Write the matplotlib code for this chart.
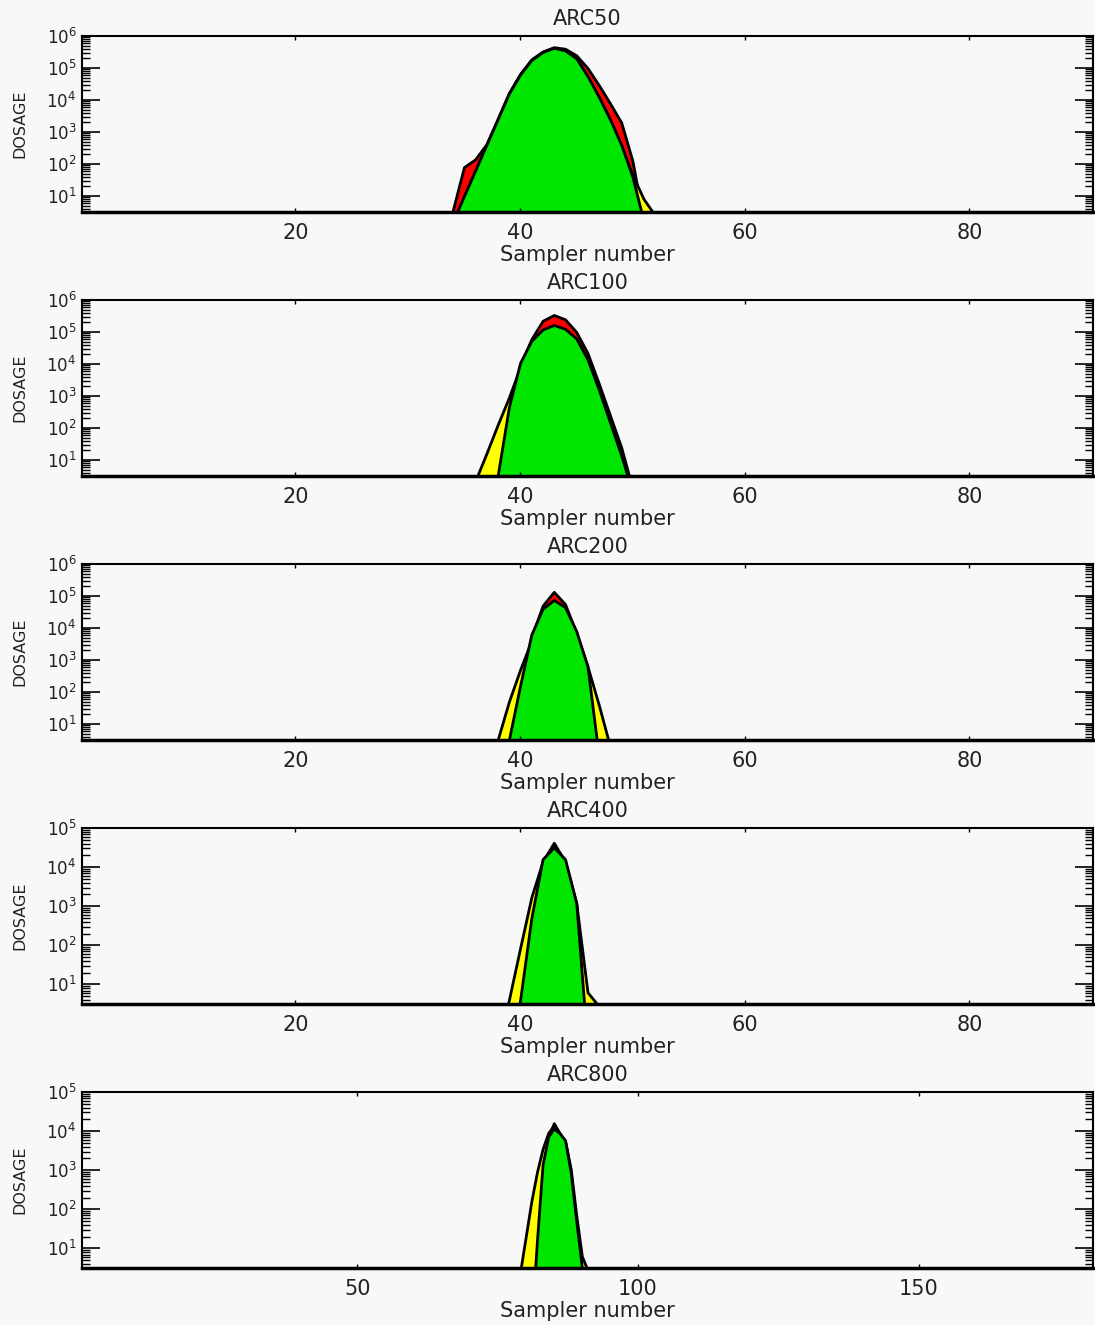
import numpy as np
import matplotlib
matplotlib.use("Agg")
import matplotlib.pyplot as plt
from matplotlib.ticker import LogLocator, NullFormatter

plt.rcParams['mathtext.default'] = 'regular'
plt.rcParams['font.family'] = ['DejaVu Sans']

# dosage per sampler (samplers outside these ranges are zero)
arc50_x = np.arange(33, 53)
arc50_red = [0.5, 3.5, 80, 140, 420, 2600, 16600, 66000, 186000, 330000, 447000,
             400000, 250000, 100000, 29500, 7900, 2000, 125, 1.6, 0.3]
arc50_yellow = [0.3, 1.4, 9.5, 60, 380, 2400, 15500, 62000, 176000, 310000, 420000,
                350000, 195000, 55000, 12500, 2450, 390, 45, 8, 2.5]
arc50_green = [0.3, 1.5, 10, 63, 400, 2500, 16000, 63000, 178000, 316000, 427000,
               355000, 200000, 56000, 12600, 2500, 400, 40, 1.6, 0.3]

arc100_x = np.arange(35, 52)
arc100_red = [0.3, 0.5, 0.6, 1, 250, 9000, 60000, 224000, 340000, 250000,
              100000, 22000, 2500, 250, 25, 1.3, 0.3]
arc100_yellow = [1, 2.2, 16, 126, 900, 8000, 48000, 115000, 155000, 115000,
                 56000, 12600, 1400, 130, 12, 1, 0.3]
arc100_green = [0.1, 0.1, 0.3, 3.2, 450, 11000, 53000, 120000, 166000, 126000,
                63000, 14000, 1600, 150, 14, 1, 0.3]

arc200_x = np.arange(37, 50)
arc200_red = [0.3, 0.5, 2, 100, 5000, 50000, 135000, 56000, 7000, 400, 1, 0.3, 0.3]
arc200_yellow = [0.6, 3.2, 50, 500, 4000, 35000, 71000, 42000, 7000, 630, 40, 2, 0.3]
arc200_green = [0.1, 0.3, 3.2, 160, 6300, 40000, 75000, 45000, 8000, 630, 1, 0.3, 0.3]

arc400_x = np.arange(38, 49)
arc400_red = [0.1, 0.3, 3, 400, 14000, 42000, 14000, 1100, 0.2, 0.1, 0.1]
arc400_yellow = [0.3, 4, 85, 1700, 14000, 35000, 14000, 1200, 6.3, 2.8, 0.3]
arc400_green = [0.1, 0.1, 4, 500, 16000, 32000, 16000, 1200, 0.25, 0.1, 0.1]

arc800_x = np.arange(78, 93)
arc800_red = [0.1, 0.1, 0.1, 0.1, 10, 1000, 7000, 16000, 9000, 5000, 800, 40, 2.5, 0.3, 0.1]
arc800_yellow = [0.3, 2.5, 20, 160, 900, 3500, 9000, 14000, 9000, 5600, 1100, 70, 6.3, 2.8, 0.3]
arc800_green = [0.1, 0.1, 0.1, 0.1, 16, 1400, 7200, 11700, 8900, 5900, 900, 50, 3.2, 0.3, 0.1]

panels = [
    ("ARC50", arc50_x, arc50_red, arc50_yellow, arc50_green, (1, 91), 1e6, [20, 40, 60, 80]),
    ("ARC100", arc100_x, arc100_red, arc100_yellow, arc100_green, (1, 91), 1e6, [20, 40, 60, 80]),
    ("ARC200", arc200_x, arc200_red, arc200_yellow, arc200_green, (1, 91), 1e6, [20, 40, 60, 80]),
    ("ARC400", arc400_x, arc400_red, arc400_yellow, arc400_green, (1, 91), 1e5, [20, 40, 60, 80]),
    ("ARC800", arc800_x, arc800_red, arc800_yellow, arc800_green, (1, 181), 1e5, [50, 100, 150]),
]

W, H = 1095, 1325
bg = '#f8f8f8'
txt = '#222222'
fig = plt.figure(figsize=(W / 100, H / 100), dpi=100, facecolor=bg)

ymin = 10 ** 0.5
for i, (name, x, red, yellow, green, xlim, ymax, xticks) in enumerate(panels):
    top = 36 + 264 * i
    bot = 212 + 264 * i
    ax = fig.add_axes([82 / W, 1 - bot / H, 1011 / W, (bot - top) / H], facecolor=bg)

    # red underneath, then yellow, green on top
    for vals, col in ((red, '#ff0000'), (yellow, '#ffff00'), (green, '#00e600')):
        ax.fill_between(x, vals, 1e-3, facecolor=col, edgecolor='black', linewidth=2.0)

    ax.set_yscale('log')
    ax.set_xlim(*xlim)
    ax.set_ylim(ymin, ymax)
    ax.set_xticks(xticks)
    ax.yaxis.set_major_locator(LogLocator(base=10, numticks=10))
    ax.yaxis.set_minor_locator(LogLocator(base=10, subs=np.arange(2, 10), numticks=20))
    ax.yaxis.set_minor_formatter(NullFormatter())

    ax.tick_params(axis='x', direction='in', length=3, width=1, top=True, bottom=True,
                   labelsize=15, pad=8, labelcolor=txt)
    ax.tick_params(axis='y', which='major', direction='in', length=13, width=1.2,
                   left=True, right=True, labelsize=12, pad=4, labelcolor=txt)
    ax.tick_params(axis='y', which='minor', direction='in', length=6, width=1.0,
                   left=True, right=True)

    for side in ('top', 'left', 'right'):
        ax.spines[side].set_linewidth(1.5)
    ax.spines['bottom'].set_linewidth(2.5)

    ax.set_xlabel("Sampler number", fontsize=15, color=txt)
    ax.xaxis.set_label_coords(0.5, -33 / 176, transform=ax.transAxes)
    ax.set_ylabel("DOSAGE", fontsize=11.5, color=txt)
    ax.yaxis.set_label_coords(-55 / 1011, 0.5, transform=ax.transAxes)
    ax.text(0.5, 1 + 17 / 176, name, transform=ax.transAxes, ha='center', va='center',
            fontsize=15, color=txt)

fig.savefig("out.png", dpi=100, facecolor=bg)
